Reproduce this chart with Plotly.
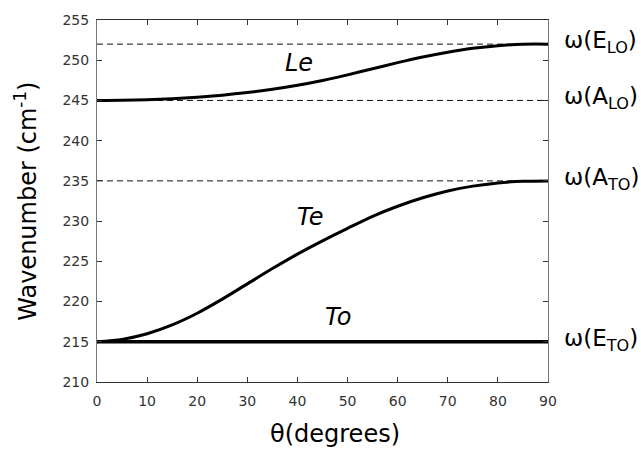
import plotly.graph_objects as go

# ---- data ----
theta = [0, 5, 10, 15, 20, 25, 30, 35, 40, 45, 50, 55, 60, 65, 70, 75, 80, 85, 90]
le_vals = [245.0, 245.02, 245.09, 245.22, 245.41, 245.66, 245.98, 246.38, 246.88, 247.48,
           248.18, 248.94, 249.70, 250.40, 251.00, 251.48, 251.81, 251.99, 252.0]
te_vals = [215.0, 215.3, 216.0, 217.1, 218.55, 220.3, 222.2, 224.1, 225.9, 227.55,
           229.1, 230.6, 231.85, 232.9, 233.75, 234.35, 234.75, 234.95, 235.0]
to_theta = [0, 90]
to_vals = [215.0, 215.0]

ref_levels = [252, 245, 235]
right_labels = ["ω(E<sub>LO</sub>)", "ω(A<sub>LO</sub>)", "ω(A<sub>TO</sub>)", "ω(E<sub>TO</sub>)"]
right_label_vals = [252, 245, 235, 215]

curve_labels = ["Le", "Te", "To"]
curve_label_x = [40.3, 42.5, 48.0]
curve_label_y = [249.7, 230.5, 218.1]

x_ticks = [0, 10, 20, 30, 40, 50, 60, 70, 80, 90]
y_ticks = [210, 215, 220, 225, 230, 235, 240, 245, 250, 255]

FONT = "DejaVu Sans"

fig = go.Figure()

for lvl in ref_levels:
    fig.add_trace(go.Scatter(x=[theta[0], theta[-1]], y=[lvl, lvl], mode="lines",
                             line=dict(color="#111111", width=1, dash="6px,4px"),
                             hoverinfo="skip", showlegend=False))

fig.add_trace(go.Scatter(x=theta, y=le_vals, mode="lines",
                         line=dict(color="black", width=3, shape="spline", smoothing=0.8),
                         showlegend=False))
fig.add_trace(go.Scatter(x=theta, y=te_vals, mode="lines",
                         line=dict(color="black", width=3, shape="spline", smoothing=0.8),
                         showlegend=False))
fig.add_trace(go.Scatter(x=to_theta, y=to_vals, mode="lines",
                         line=dict(color="black", width=3.5),
                         showlegend=False))

annotations = []
for txt, v in zip(right_labels, right_label_vals):
    annotations.append(dict(text=txt, xref="paper", yref="y", x=1.031, y=v,
                            xanchor="left", yanchor="middle", yshift=2, showarrow=False,
                            font=dict(family=FONT, size=23, color="black")))
for txt, xv, yv in zip(curve_labels, curve_label_x, curve_label_y):
    annotations.append(dict(text="<i>" + txt + "</i>", xref="x", yref="y", x=xv, y=yv,
                            xanchor="center", yanchor="middle", showarrow=False,
                            font=dict(family=FONT, size=24, color="black")))
annotations.append(dict(text="θ(degrees)", xref="paper", yref="paper", x=0.528, y=-0.145,
                        xanchor="center", yanchor="middle", showarrow=False,
                        font=dict(family=FONT, size=24, color="black")))
annotations.append(dict(text="Wavenumber (cm<sup>-1</sup>)", xref="paper", yref="paper",
                        x=-0.158, y=0.5, xanchor="center", yanchor="middle",
                        textangle=-90, showarrow=False,
                        font=dict(family=FONT, size=24, color="black")))

fig.update_layout(
    width=641, height=454,
    margin=dict(l=97, r=93, t=14, b=72),
    paper_bgcolor="white", plot_bgcolor="white",
    font=dict(family=FONT),
    annotations=annotations,
    xaxis=dict(range=[0, 90], tickvals=x_ticks, ticks="inside", ticklen=5, tickwidth=1,
               tickcolor="#333333", showline=True, linecolor="#333333", linewidth=1,
               mirror="ticks", showgrid=False, zeroline=False,
               tickfont=dict(family=FONT, size=14, color="#333333"), ticklabelstandoff=6),
    yaxis=dict(range=[210, 255], tickvals=y_ticks, ticks="inside", ticklen=5, tickwidth=1,
               tickcolor="#333333", showline=True, linecolor="#777777", linewidth=1,
               mirror="ticks", showgrid=False, zeroline=False,
               tickfont=dict(family=FONT, size=14, color="#333333"), ticklabelstandoff=4),
)

fig.write_html("out.html")
